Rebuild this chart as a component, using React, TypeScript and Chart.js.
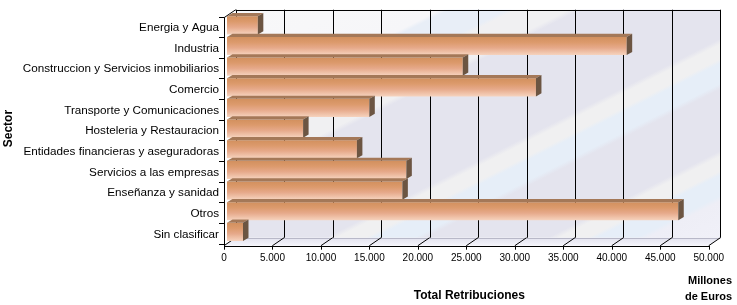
import React, { useEffect, useRef } from 'react';
import { Chart, registerables } from 'chart.js';
Chart.register(...registerables);

const categories = [
  'Energia y Agua',
  'Industria',
  'Construccion y Servicios inmobiliarios',
  'Comercio',
  'Transporte y Comunicaciones',
  'Hosteleria y Restauracion',
  'Entidades financieras y aseguradoras',
  'Servicios a las empresas',
  'Enseñanza y sanidad',
  'Otros',
  'Sin clasificar',
];
const values = [3180, 41230, 24320, 31870, 14680, 7850, 13400, 18500, 18090, 46550, 1650];
const xMin = 0;
const xMax = 50000;
const xStep = 5000;
const xTitle = 'Total Retribuciones';
const yTitle = 'Sector';
const unitLines = ['Millones', 'de Euros'];

const FONT = 'Arial, "Liberation Sans", Helvetica, sans-serif';
// 3D offsets relative to the bar plane
const FRONT_DX = -3, FRONT_DY_BOTTOM = 3.5, FRONT_DY_TOP = 2.7;
const BACK_DX = 8.7, BACK_DY_BOTTOM = -4.5, BACK_DY_TOP = -5.3;
const BAR_DX = 5.5, BAR_DY = -3.2;

const fmt = (v: number) => String(Math.round(v)).replace(/\B(?=(\d{3})+(?!\d))/g, '.');
const crisp = (v: number) => Math.round(v) + 0.5;

function wallGradient(ctx: CanvasRenderingContext2D, x0: number, y0: number, x1: number, y1: number) {
  const nx = 0.45, ny = 0.893;
  const L = (x1 - x0) * nx + (y1 - y0) * ny;
  const g = ctx.createLinearGradient(x0, y0, x0 + nx * L, y0 + ny * L);
  const stops: [number, string][] = [
    [0, '#F8F8F9'], [92, '#F6F6F9'], [96, '#E8EEF7'], [122, '#E8EEF7'], [126, '#F0F0F2'],
    [150, '#F0F0F2'], [155, '#E4E4EE'], [244, '#E4E4EE'], [249, '#F0F0F1'], [262, '#F0F0F1'],
    [266, '#E6EEF8'], [284, '#E6EEF8'], [289, '#E4E4EE'], [344, '#E4E4EE'], [349, '#F0F0F1'],
    [362, '#F0F0F1'], [366, '#E6EEF8'], [384, '#E6EEF8'], [389, '#EEEEF6'], [L, '#F0F0F8'],
  ];
  for (const [t, c] of stops) g.addColorStop(Math.min(1, Math.max(0, t / L)), c);
  return g;
}

const threeD = {
  id: 'threeD',
  beforeDatasetsDraw(chart: any) {
    const { ctx, chartArea: ca, scales } = chart;
    const x = scales.x;
    const p0 = x.getPixelForValue(xMin);
    const p1 = x.getPixelForValue(xMax);
    const bl = p0 + BACK_DX, br = p1 + BACK_DX;
    const bt = ca.top + BACK_DY_TOP, bb = ca.bottom + BACK_DY_BOTTOM;
    const fl = p0 + FRONT_DX, fr = p1 + FRONT_DX;
    const ft = ca.top + FRONT_DY_TOP, fb = ca.bottom + FRONT_DY_BOTTOM;
    ctx.save();
    // back wall
    ctx.fillStyle = wallGradient(ctx, bl, bt, br, bb);
    ctx.fillRect(bl, bt, br - bl, bb - bt);
    // floor
    const fg = ctx.createLinearGradient(0, bb, 0, fb);
    fg.addColorStop(0, '#E2E2EE');
    fg.addColorStop(1, '#F4F4FA');
    ctx.fillStyle = fg;
    ctx.beginPath();
    ctx.moveTo(fl, fb); ctx.lineTo(fr, fb); ctx.lineTo(br, bb); ctx.lineTo(bl, bb); ctx.closePath();
    ctx.fill();
    // floor back edge
    ctx.strokeStyle = '#B8B8C8';
    ctx.lineWidth = 1;
    ctx.beginPath();
    ctx.moveTo(bl, crisp(bb)); ctx.lineTo(br, crisp(bb));
    ctx.stroke();
    // grid lines
    ctx.strokeStyle = '#000';
    ctx.beginPath();
    for (let v = xMin; v <= xMax; v += xStep) {
      const px = x.getPixelForValue(v);
      const gx = crisp(px + BACK_DX);
      ctx.moveTo(gx, bt); ctx.lineTo(gx, bb);
      ctx.moveTo(px + BACK_DX, bb); ctx.lineTo(px + FRONT_DX, fb);
      const tx = crisp(px + FRONT_DX);
      ctx.moveTo(tx, fb); ctx.lineTo(tx, fb + 4);
    }
    ctx.moveTo(bl, crisp(bt)); ctx.lineTo(br, crisp(bt));
    ctx.moveTo(fl, crisp(fb)); ctx.lineTo(fr + 0.5, crisp(fb));
    ctx.moveTo(crisp(fl), ft); ctx.lineTo(crisp(fl), fb);
    ctx.moveTo(fl, ft); ctx.lineTo(bl, bt);
    const n = categories.length;
    const step = (ca.bottom - ca.top) / n;
    for (let i = 0; i <= n; i++) {
      const ty = crisp(ca.top + i * step + 1.5);
      ctx.moveTo(fl - 5, ty); ctx.lineTo(fl, ty);
    }
    ctx.stroke();
    ctx.restore();
  },
  afterDatasetsDraw(chart: any) {
    const { ctx } = chart;
    const meta = chart.getDatasetMeta(0);
    ctx.save();
    meta.data.forEach((el: any) => {
      const { x: xe, y: ye, base, height } = el.getProps(['x', 'y', 'base', 'height'], true);
      const top = ye - height / 2;
      const bottom = ye + height / 2;
      ctx.fillStyle = '#A47858';
      ctx.beginPath();
      ctx.moveTo(base, top); ctx.lineTo(xe, top); ctx.lineTo(xe + BAR_DX, top + BAR_DY); ctx.lineTo(base + BAR_DX, top + BAR_DY);
      ctx.closePath();
      ctx.fill();
      ctx.fillStyle = '#6C5542';
      ctx.beginPath();
      ctx.moveTo(xe, top); ctx.lineTo(xe + BAR_DX, top + BAR_DY); ctx.lineTo(xe + BAR_DX, bottom + BAR_DY); ctx.lineTo(xe, bottom);
      ctx.closePath();
      ctx.fill();
    });
    ctx.restore();
  },
  afterDraw(chart: any) {
    const { ctx } = chart;
    ctx.save();
    ctx.fillStyle = '#000';
    ctx.font = `bold 11px ${FONT}`;
    ctx.textAlign = 'right';
    ctx.textBaseline = 'alphabetic';
    ctx.fillText(unitLines[0], 732, 283.5);
    ctx.fillText(unitLines[1], 732, 299.5);
    ctx.restore();
  },
};

export default function App() {
  const ref = useRef<HTMLCanvasElement | null>(null);
  useEffect(() => {
    document.body.style.margin = '0';
    const canvas = ref.current!;
    const chart = new Chart(canvas, {
      type: 'bar',
      data: {
        labels: categories,
        datasets: [
          {
            data: values,
            barPercentage: 0.88,
            categoryPercentage: 1,
            borderWidth: 0,
            backgroundColor: (c: any) => {
              const ch = c.chart;
              const ys = ch.scales && ch.scales.y;
              const ca = ch.chartArea;
              if (!ys || !ca) return '#E0A07A';
              const step = (ca.bottom - ca.top) / categories.length;
              const cy = ys.getPixelForValue(c.dataIndex);
              const h = step * 0.88;
              const g = ch.ctx.createLinearGradient(0, cy - h / 2, 0, cy + h / 2);
              g.addColorStop(0, '#D2905E');
              g.addColorStop(0.3, '#DC9A6C');
              g.addColorStop(0.6, '#E6A98A');
              g.addColorStop(1, '#F6D3BE');
              return g;
            },
          },
        ],
      },
      options: {
        indexAxis: 'y',
        animation: false,
        responsive: false,
        devicePixelRatio: 1,
        layout: { padding: { top: 10.6, right: 17.3, left: 0, bottom: 0 } },
        plugins: { legend: { display: false }, tooltip: { enabled: false } },
        scales: {
          x: {
            type: 'linear',
            min: xMin,
            max: xMax,
            grid: { display: false, drawTicks: false },
            border: { display: false },
            ticks: {
              stepSize: xStep,
              color: '#000',
              font: { family: FONT, size: 10 },
              padding: 10,
              labelOffset: -3,
              maxRotation: 0,
              callback: (v: any) => fmt(Number(v)),
            },
            title: {
              display: true,
              text: xTitle,
              color: '#000',
              font: { family: FONT, size: 12, weight: 'bold' },
              padding: { top: 0, bottom: 1.8 },
            },
            afterFit: (s: any) => { s.height = 62.8; },
          },
          y: {
            type: 'category',
            grid: { display: false, drawTicks: false },
            border: { display: false },
            ticks: {
              color: '#000',
              font: { family: FONT, size: 11.7 },
              padding: 8,
              labelOffset: 2.5,
              autoSkip: false,
            },
            title: {
              display: true,
              text: yTitle,
              color: '#000',
              font: { family: FONT, size: 12, weight: 'bold' },
              padding: { top: 1.5, bottom: 0 },
            },
            afterFit: (s: any) => { s.width = 227; },
          },
        },
      },
      plugins: [threeD],
    } as any);
    return () => chart.destroy();
  }, []);
  return <canvas ref={ref} width={737} height={305} style={{ display: 'block', width: 737, height: 305 }} />;
}
